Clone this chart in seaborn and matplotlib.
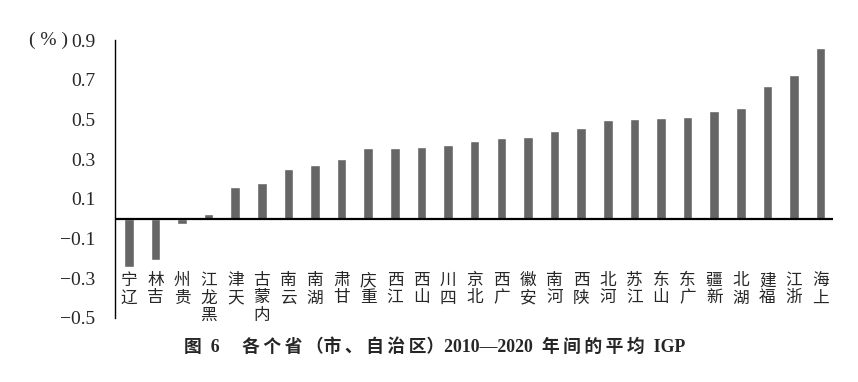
import pandas as pd
import matplotlib.pyplot as plt
import seaborn as sns

provinces = ["辽宁", "吉林", "贵州", "黑龙江", "天津", "内蒙古", "云南", "湖南", "甘肃", "重庆",
             "江西", "山西", "四川", "北京", "广西", "安徽", "河南", "陕西", "河北", "江苏",
             "山东", "广东", "新疆", "湖北", "福建", "浙江", "上海"]
igp = [-0.242, -0.21, -0.025, 0.025, 0.157, 0.18, 0.25, 0.27, 0.30, 0.355,
       0.355, 0.36, 0.37, 0.392, 0.407, 0.413, 0.441, 0.455, 0.497, 0.50,
       0.507, 0.514, 0.542, 0.557, 0.67, 0.724, 0.862]
yticks = [-0.5, -0.3, -0.1, 0.1, 0.3, 0.5, 0.7, 0.9]

df = pd.DataFrame({"province": provinces, "igp": igp})

sns.set_style("white")
plt.rcParams['font.family'] = ['Liberation Serif', 'Noto Sans CJK SC', 'DejaVu Sans']

fig = plt.figure(figsize=(8.58, 3.82), dpi=100)
ax = fig.add_axes([0.134, 0.168, 0.837, 0.727])

sns.barplot(data=df, x="province", y="igp", color="#666666", width=0.36,
            saturation=1, ax=ax)
n = len(provinces)
ax.set_xlim(-0.52, n - 1 + 0.47)
ax.set_ylim(-0.5, 0.9)
ax.set_yticks(yticks)
ax.set_yticklabels([f"{v:.1f}".replace("-", "\u2212") for v in yticks], fontsize=14)
ax.tick_params(axis="y", length=0, pad=14)
ax.set_xticks([])
ax.set_xlabel("")
ax.set_ylabel("")
for s in ["top", "right", "bottom"]:
    ax.spines[s].set_visible(False)
ax.spines["left"].set_color("black")
ax.spines["left"].set_linewidth(1.0)
ax.axhline(0, color="black", lw=1.6, zorder=3)

# vertical stacked labels, read from bottom to top
for i, name in enumerate(provinces):
    ax.text(i, -0.27, "\n".join(reversed(name)), ha="center", va="top",
            fontsize=12, linespacing=1.02, family=['Noto Sans CJK SC'])

ax.text(-0.066, 0.9, "( % )", transform=ax.get_yaxis_transform(), ha="right", va="center",
        fontsize=14, family=['Liberation Serif', 'DejaVu Sans'])

t = "\u2009"
title = ("图  6     " + t.join("各个省") + t + "（" + t.join("市、自治区") + "）2010—2020  "
         + t.join("年间的平均") + "  IGP")
fig.text(0.507, 0.09, title, ha="center", va="center",
         fontsize=12.8, fontweight="bold", family=['Liberation Serif', 'Noto Sans CJK SC', 'DejaVu Sans'])

fig.savefig("out.png", dpi=100)
